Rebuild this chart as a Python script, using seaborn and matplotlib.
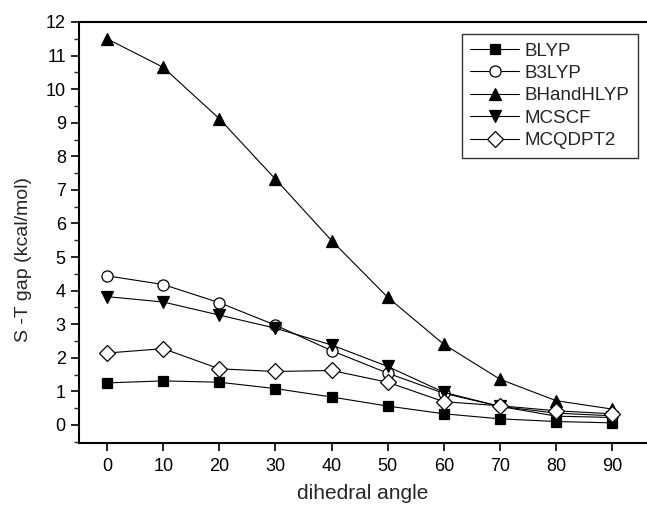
import matplotlib
matplotlib.use("Agg")
import matplotlib.pyplot as plt
import seaborn as sns
import pandas as pd
from matplotlib.ticker import MultipleLocator

angles = [0, 10, 20, 30, 40, 50, 60, 70, 80, 90]
blyp = [1.25, 1.31, 1.27, 1.08, 0.83, 0.56, 0.33, 0.18, 0.10, 0.06]
b3lyp = [4.44, 4.18, 3.64, 2.97, 2.21, 1.54, 0.94, 0.55, 0.35, 0.27]
bhandhlyp = [11.5, 10.65, 9.12, 7.32, 5.49, 3.80, 2.40, 1.36, 0.72, 0.47]
mcscf = [3.82, 3.66, 3.27, 2.88, 2.38, 1.74, 0.97, 0.55, 0.26, 0.22]
mcqdpt2 = [2.14, 2.27, 1.67, 1.59, 1.62, 1.27, 0.69, 0.57, 0.42, 0.33]

series_names = ["BLYP", "B3LYP", "BHandHLYP", "MCSCF", "MCQDPT2"]
series_vals = [blyp, b3lyp, bhandhlyp, mcscf, mcqdpt2]

rows = []
for name, vals in zip(series_names, series_vals):
    for a, v in zip(angles, vals):
        rows.append({"angle": a, "gap": v, "method": name})
df = pd.DataFrame(rows)

sns.set_theme(style="ticks")
plt.rcParams["font.family"] = ["Liberation Sans", "DejaVu Sans"]

fig = plt.figure(figsize=(6.47, 5.07), dpi=100)
ax = fig.add_axes([79/647, 1-443/507, 1-79/647, (443-22)/507])

markers = {"BLYP": "s", "B3LYP": "o", "BHandHLYP": "^", "MCSCF": "v", "MCQDPT2": "D"}
faces = {"BLYP": "black", "B3LYP": "white", "BHandHLYP": "black", "MCSCF": "black", "MCQDPT2": "white"}
sizes = {"BLYP": 7, "B3LYP": 8, "BHandHLYP": 9, "MCSCF": 9, "MCQDPT2": 8}

for name in series_names:
    sub = df[df["method"] == name]
    sns.lineplot(data=sub, x="angle", y="gap", ax=ax, color="black", lw=0.8,
                 marker=markers[name], markersize=sizes[name],
                 markerfacecolor=faces[name], markeredgecolor="black",
                 markeredgewidth=0.9, label=name)

ax.set_xlim(-5, 96.2)
ax.set_ylim(-0.54, 12)
ax.set_xticks(angles)
ax.yaxis.set_major_locator(MultipleLocator(1))
ax.yaxis.set_minor_locator(MultipleLocator(0.5))
ax.tick_params(axis="both", which="major", direction="out", length=6, width=1.2,
               labelsize=13, colors="black")
ax.tick_params(axis="y", which="minor", direction="out", length=3.5, width=1.0)
ax.tick_params(axis="x", which="major", pad=5)
for side in ["left", "bottom", "top"]:
    ax.spines[side].set_linewidth(1.5)
    ax.spines[side].set_color("black")
ax.spines["right"].set_visible(False)

ax.set_xlabel("dihedral angle", fontsize=15, labelpad=6)
ax.set_ylabel("S -T gap (kcal/mol)", fontsize=14)
ax.yaxis.set_label_coords(-0.083, 0.437)

leg = ax.legend(loc="upper right", bbox_to_anchor=((638-79)/(647-79), 1-(34-22)/(443-22)),
                frameon=True, fancybox=False, fontsize=13.5, handlelength=2.6,
                handletextpad=0.3, borderpad=0.45, labelspacing=0.28,
                borderaxespad=0)
leg.get_frame().set_edgecolor("black")
leg.get_frame().set_linewidth(1.0)

fig.savefig("out.png", dpi=100)
